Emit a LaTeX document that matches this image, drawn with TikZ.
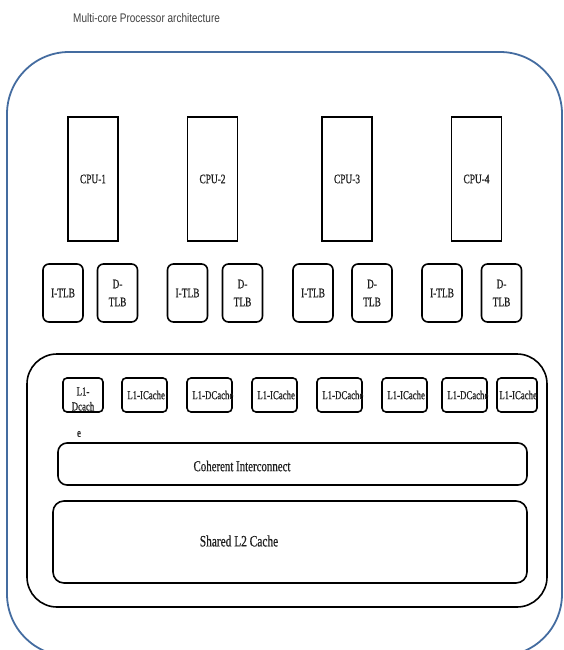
\documentclass[tikz,border=0pt]{standalone}
\usepackage{fontspec}
\setmainfont{Liberation Serif}[FakeStretch=0.72, FakeBold=0.6]
\newfontfamily\titlefont{Liberation Sans}[FakeStretch=0.8]
\definecolor{frameblue}{RGB}{68,108,160}
\definecolor{inkgray}{RGB}{30,30,30}

\tikzset{
  boxline/.style={draw=black, line width=1.6pt, inner sep=0pt},
  cpubox/.style={boxline, minimum width=50pt, minimum height=124pt,
    font=\fontsize{13}{14}\selectfont, text=inkgray},
  tlbbox/.style={boxline, rounded corners=6pt, minimum width=40pt, minimum height=58pt,
    font=\fontsize{13}{18}\selectfont, text=inkgray, align=center},
  cachebox/.style={boxline, rounded corners=4pt, minimum height=34pt},
  cachetext/.style={anchor=west, inner sep=0pt, font=\fontsize{12.2}{15}\selectfont, text=inkgray},
  busbox/.style={boxline, rounded corners=9pt},
  bustext/.style={inner sep=0pt, text=inkgray}
}

\begin{document}
\begin{tikzpicture}[x=1pt, y=-1pt]
  \useasboundingbox (0,0) rectangle (563,650);

  % heading
  \node[anchor=west, inner sep=0pt, font=\titlefont\fontsize{12.5}{14}\selectfont, text=black!75]
    (title) at (73,18) {Multi-core Processor architecture};

  % chip outline
  \node[draw=frameblue, line width=1.8pt, rounded corners=62pt, inner sep=0pt,
    minimum width=555pt, minimum height=604pt] (chip) at (284.5,354) {};

  % processor cores
  \node[cpubox] (cpu1) at (93,179)    {CPU-1};
  \node[cpubox] (cpu2) at (212.5,179) {CPU-2};
  \node[cpubox] (cpu3) at (347,179)   {CPU-3};
  \node[cpubox] (cpu4) at (476.5,179) {CPU-4};

  % translation lookaside buffers
  \node[tlbbox] (itlb1) at (63,293)    {I-TLB};
  \node[tlbbox] (dtlb1) at (117.5,293) {D-\\TLB};
  \node[tlbbox] (itlb2) at (187.5,293) {I-TLB};
  \node[tlbbox] (dtlb2) at (242.5,293) {D-\\TLB};
  \node[tlbbox] (itlb3) at (313,293)   {I-TLB};
  \node[tlbbox] (dtlb3) at (372,293)   {D-\\TLB};
  \node[tlbbox] (itlb4) at (442,293)   {I-TLB};
  \node[tlbbox] (dtlb4) at (501.5,293) {D-\\TLB};

  % memory subsystem
  \node[boxline, rounded corners=30pt, minimum width=520pt, minimum height=253pt]
    (mem) at (287,480.5) {};

  % level-one caches
  \node[cachebox, minimum width=40pt] (l1a) at (83,395)    {};
  \node[cachebox, minimum width=45pt] (l1b) at (144.5,395) {};
  \node[cachebox, minimum width=45pt] (l1c) at (209.5,395) {};
  \node[cachebox, minimum width=45pt] (l1d) at (274.5,395) {};
  \node[cachebox, minimum width=45pt] (l1e) at (339.5,395) {};
  \node[cachebox, minimum width=45pt] (l1f) at (404.5,395) {};
  \node[cachebox, minimum width=45pt] (l1g) at (464.5,395) {};
  \node[cachebox, minimum width=40pt] (l1h) at (517,395)   {};

  \node[cachetext, anchor=center, align=center] (l1at) at (83,399) {L1-\\Dcach};
  \node[cachetext, anchor=center] (l1ae) at (79,434) {e};
  \node[cachetext] (l1bt) at ([xshift=6pt]l1b.west) {L1-ICache};
  \node[cachetext] (l1ct) at ([xshift=6pt]l1c.west) {L1-DCache};
  \node[cachetext] (l1dt) at ([xshift=6pt]l1d.west) {L1-ICache};
  \node[cachetext] (l1et) at ([xshift=6pt]l1e.west) {L1-DCache};
  \node[cachetext] (l1ft) at ([xshift=6pt]l1f.west) {L1-ICache};
  \node[cachetext] (l1gt) at ([xshift=6pt]l1g.west) {L1-DCache};
  \node[cachetext] (l1ht) at ([xshift=3pt]l1h.west) {L1-ICache};

  % interconnect and shared cache
  \node[busbox, minimum width=469pt, minimum height=42pt] (bus) at (292.5,464) {};
  \node[bustext, font=\fontsize{15.1}{16}\selectfont] (bust) at (242,466) {Coherent Interconnect};

  \node[busbox, rounded corners=11pt, minimum width=474pt, minimum height=82pt] (l2) at (290,542) {};
  \node[bustext, font=\fontsize{15.8}{17}\selectfont] (l2t) at (239,541) {Shared L2 Cache};
\end{tikzpicture}
\end{document}
